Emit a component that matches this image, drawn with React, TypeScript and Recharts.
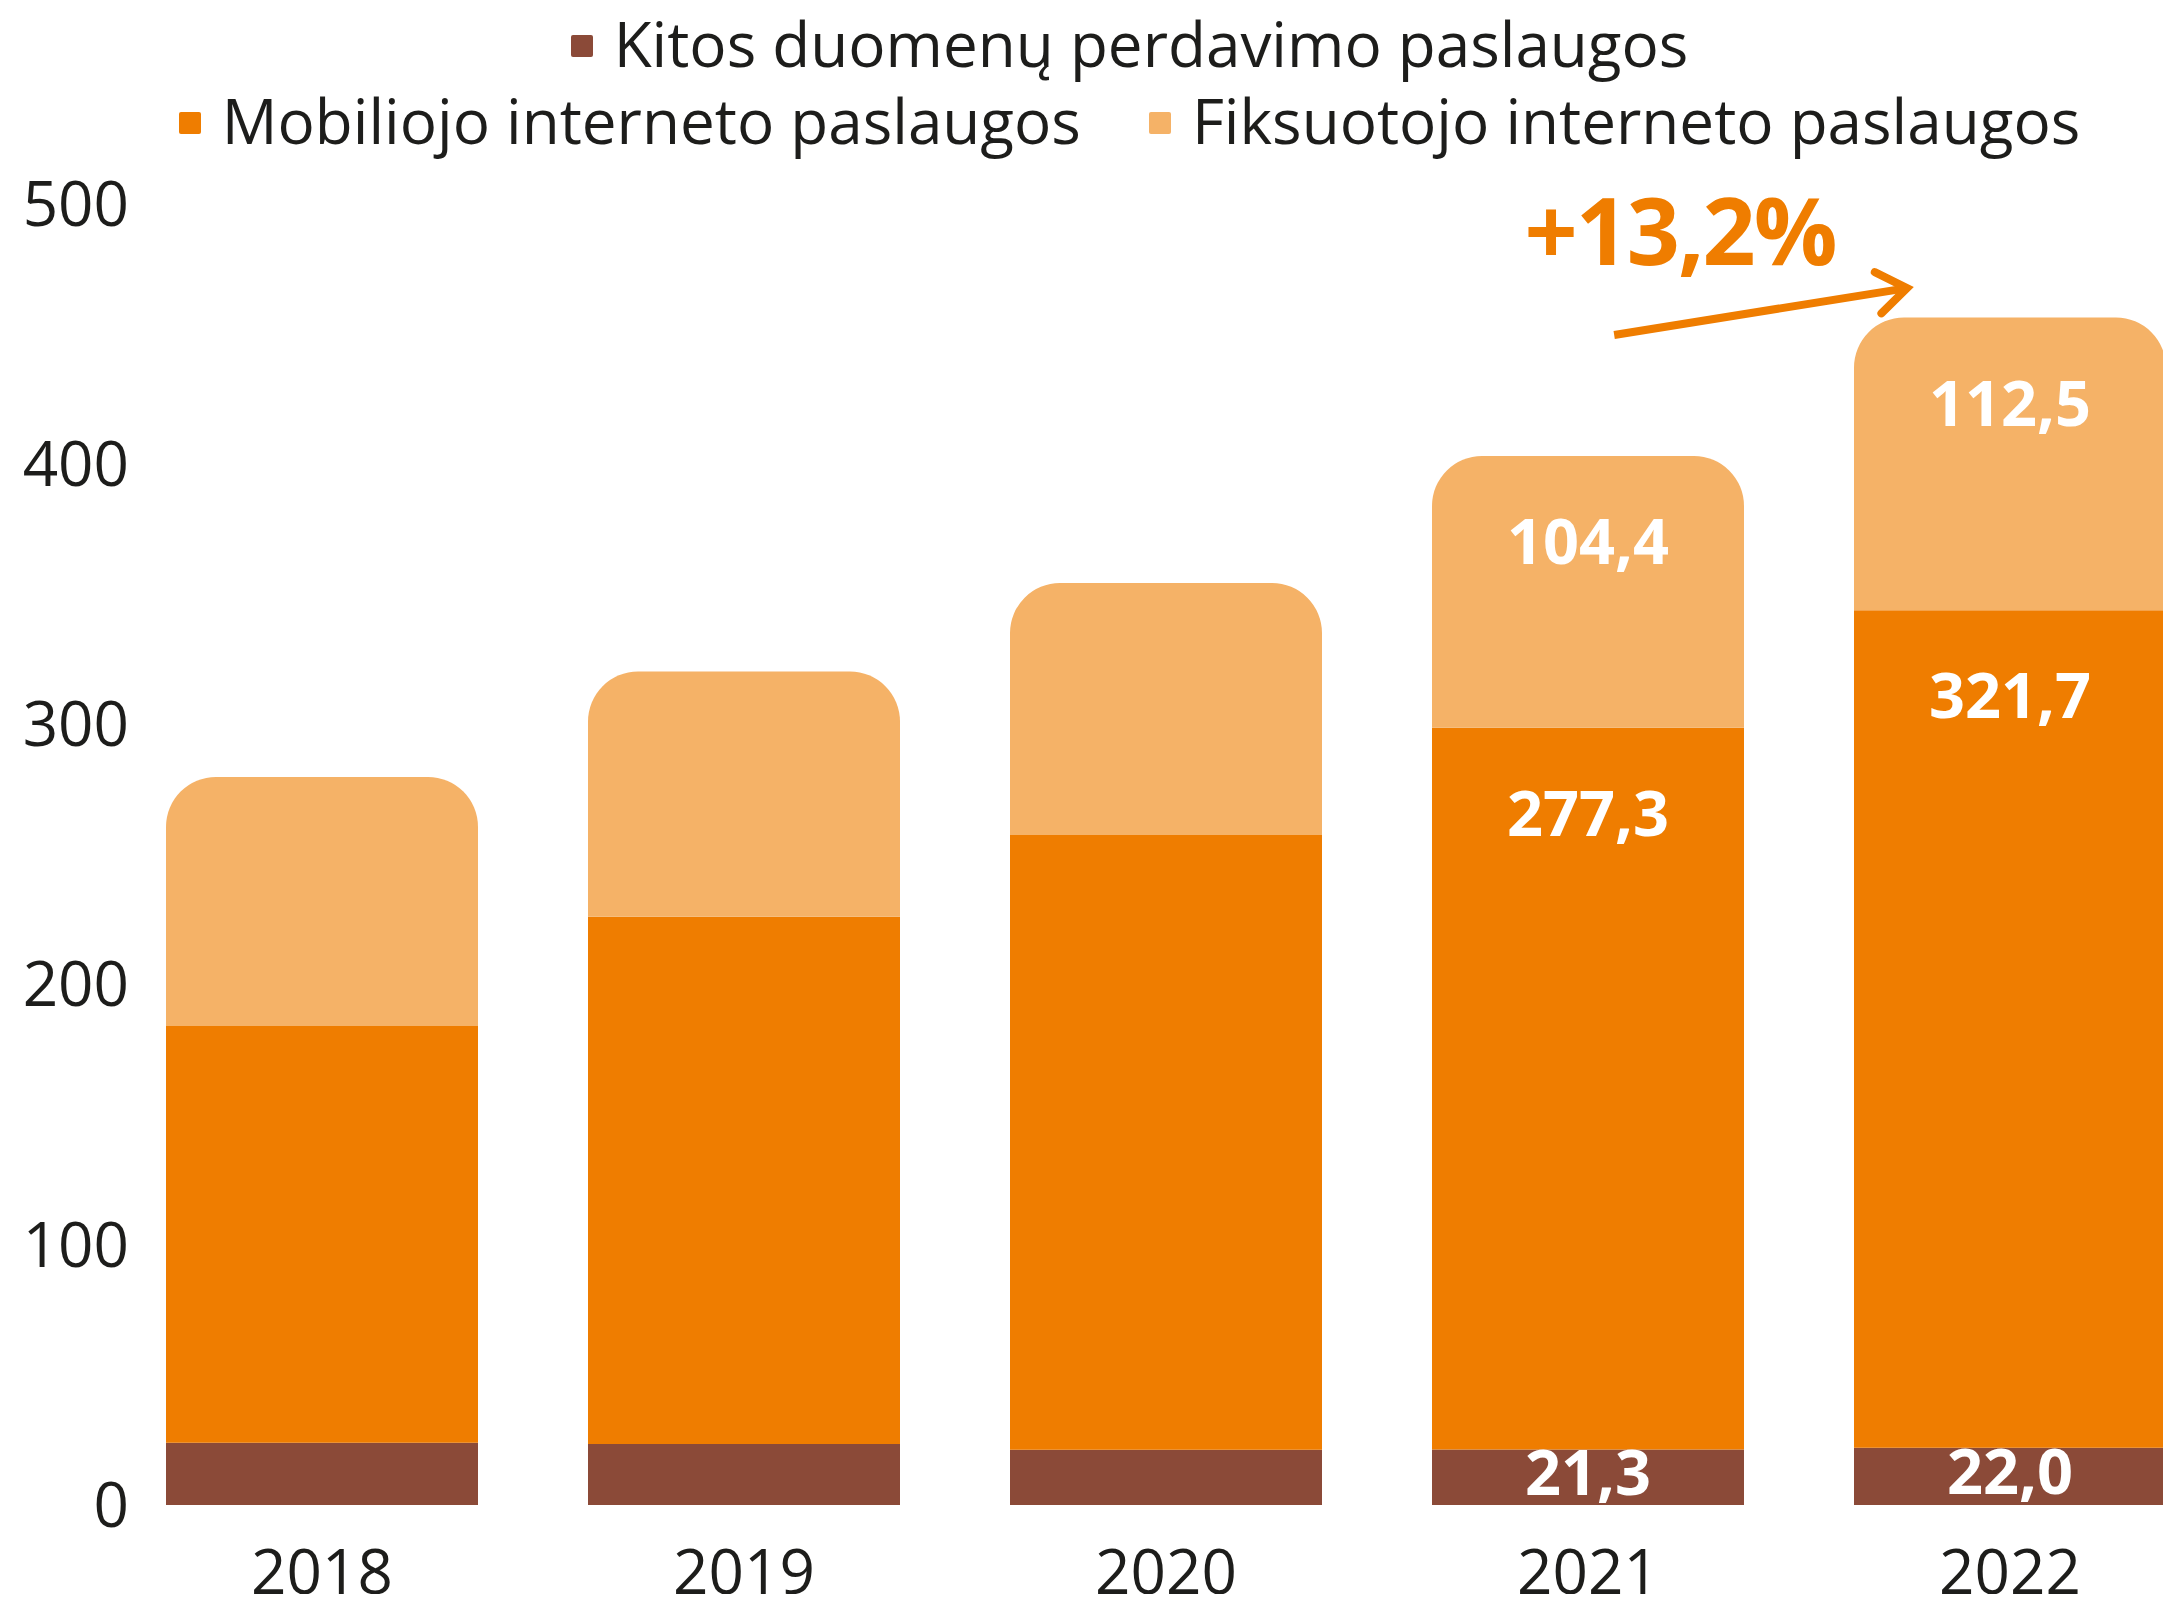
import { BarChart, Bar, XAxis, YAxis, Legend, LabelList, ReferenceLine } from "recharts";

const years = ["2018", "2019", "2020", "2021", "2022"];
const kitos = [23.9, 23.4, 21.2, 21.3, 22.0];
const mobilus = [160.1, 202.6, 236.2, 277.3, 321.7];
const fiksuotas = [95.7, 94.2, 96.8, 104.4, 112.5];
const labeledYears = ["2021", "2022"];
const yTicks = [0, 100, 200, 300, 400, 500];

const seriesNames = [
  "Kitos duomenų perdavimo paslaugos",
  "Mobiliojo interneto paslaugos",
  "Fiksuotojo interneto paslaugos",
];
const legendRows = [[0], [1, 2]];

const growthText = "+13,2%";
const growthFrom = 449.5;
const growthTo = 467.5;

const FONT = "'Open Sans', sans-serif";
const TEXT = "#1d1d1b";
const BROWN = "#8b4a38";
const ORANGE = "#ef7d00";
const LIGHT = "#f5b267";
const seriesColors = [BROWN, ORANGE, LIGHT];

const fmt = (v: number) => v.toFixed(1).replace(".", ",");

const data = years.map((year, i) => {
  const show = labeledYears.includes(year);
  return {
    year,
    kitos: kitos[i],
    mobilus: mobilus[i],
    fiksuotas: fiksuotas[i],
    kitosLabel: show ? fmt(kitos[i]) : "",
    mobilusLabel: show ? fmt(mobilus[i]) : "",
    fiksuotasLabel: show ? fmt(fiksuotas[i]) : "",
  };
});

const TopLabel = (props: any) => {
  const { x, y, width, value } = props;
  if (!value) return null;
  return (
    <text x={x + width / 2} y={y + 108} textAnchor="middle" fill="#fff" fontSize={63} fontWeight={700} fontFamily={FONT}>
      {value}
    </text>
  );
};

const MidLabel = (props: any) => {
  const { x, y, width, height, value } = props;
  if (!value) return null;
  return (
    <text x={x + width / 2} y={y + height / 2 + 18} textAnchor="middle" fill="#fff" fontSize={63} fontWeight={700} fontFamily={FONT}>
      {value}
    </text>
  );
};

const GrowthArrow = (props: any) => {
  const { x1, y1, x2, y2 } = props;
  const span = x2 - x1;
  const sx = x1 + span * 0.062;
  const ex = x1 + span * 0.756;
  const ang = Math.atan2(y2 - y1, ex - sx);
  const len = 36;
  const spread = 0.62;
  const w1x = ex - len * Math.cos(ang - spread);
  const w1y = y2 - len * Math.sin(ang - spread);
  const w2x = ex - len * Math.cos(ang + spread);
  const w2y = y2 - len * Math.sin(ang + spread);
  return (
    <g>
      <line x1={sx} y1={y1} x2={ex} y2={y2} stroke={ORANGE} strokeWidth={8} />
      <polyline
        points={`${w1x},${w1y} ${ex},${y2} ${w2x},${w2y}`}
        fill="none"
        stroke={ORANGE}
        strokeWidth={8}
        strokeLinecap="round"
      />
      <text
        x={x1 + span * 0.218}
        y={y2 - 23}
        textAnchor="middle"
        fill={ORANGE}
        fontSize={93}
        fontWeight={700}
        letterSpacing={-2}
        fontFamily={FONT}
      >
        {growthText}
      </text>
    </g>
  );
};

const renderLegend = () => (
  <div style={{ paddingLeft: 80, fontFamily: FONT, fontSize: 62, color: TEXT, lineHeight: "77px" }}>
    {legendRows.map((row, r) => (
      <div key={r} style={{ display: "flex", justifyContent: "center", height: 77 }}>
        {row.map((s, i) => (
          <div key={s} style={{ display: "flex", alignItems: "center", marginLeft: i ? 68 : 0 }}>
            <span
              style={{
                display: "inline-block",
                width: 22,
                height: 22,
                background: seriesColors[s],
                borderRadius: 2,
                marginRight: 21,
                position: "relative",
                top: 2,
              }}
            />
            <span>{seriesNames[s]}</span>
          </div>
        ))}
      </div>
    ))}
  </div>
);

const tickStyle = { fill: TEXT, fontSize: 62, fontFamily: FONT };

export default function App() {
  return (
    <div style={{ height: 1586 }}>
      <BarChart
        width={2163}
        height={1594}
        data={data}
        margin={{ top: 41.5, right: 0, bottom: 0, left: 0 }}
        barSize={312}
      >
        <Legend verticalAlign="top" content={renderLegend} wrapperStyle={{ top: -3, left: 0, width: 2163 }} />
        <XAxis
          dataKey="year"
          axisLine={false}
          tickLine={false}
          tickSize={0}
          tickMargin={45}
          height={97}
          interval={0}
          padding={{ left: -22, right: -50 }}
          tick={tickStyle}
        />
        <YAxis
          domain={[0, 500]}
          ticks={yTicks}
          width={125}
          axisLine={false}
          tickLine={false}
          tickSize={0}
          tickMargin={4}
          tick={tickStyle}
        />
        <Bar dataKey="kitos" name={seriesNames[0]} stackId="a" fill={BROWN} isAnimationActive={false}>
          <LabelList dataKey="kitosLabel" content={MidLabel} />
        </Bar>
        <Bar dataKey="mobilus" name={seriesNames[1]} stackId="a" fill={ORANGE} isAnimationActive={false}>
          <LabelList dataKey="mobilusLabel" content={TopLabel} />
        </Bar>
        <Bar
          dataKey="fiksuotas"
          name={seriesNames[2]}
          stackId="a"
          fill={LIGHT}
          radius={[50, 50, 0, 0]}
          isAnimationActive={false}
        >
          <LabelList dataKey="fiksuotasLabel" content={TopLabel} />
        </Bar>
        <ReferenceLine
          segment={[
            { x: "2021", y: growthFrom },
            { x: "2022", y: growthTo },
          ]}
          ifOverflow="visible"
          shape={GrowthArrow}
        />
      </BarChart>
    </div>
  );
}
